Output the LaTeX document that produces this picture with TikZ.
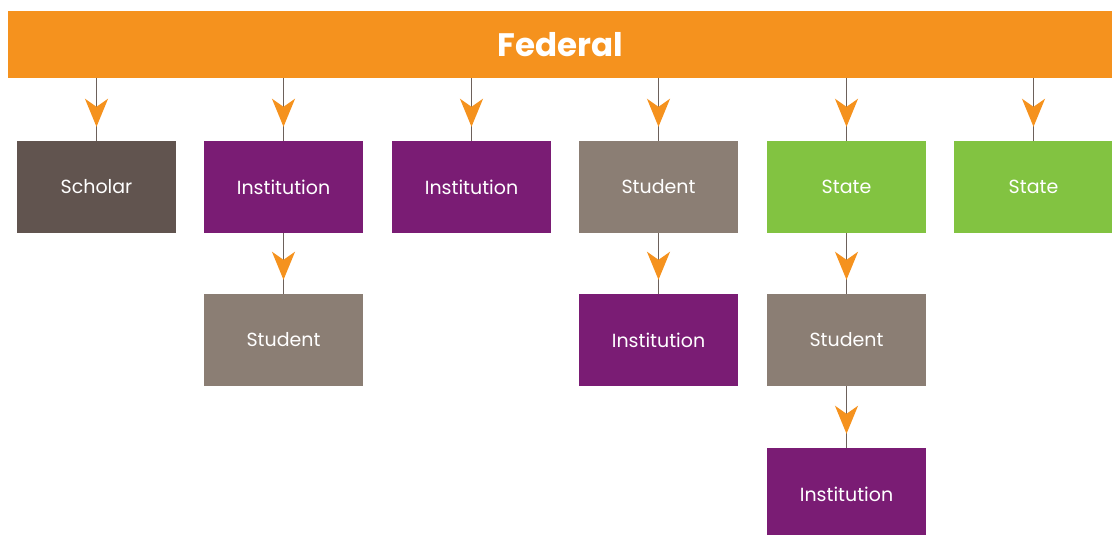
\documentclass[tikz,border=0pt]{standalone}
\usepackage{fontspec}
\setmainfont{Poppins}
\usetikzlibrary{arrows.meta,decorations.markings}
\definecolor{fedorange}{HTML}{F5921E}
\definecolor{scholarbrown}{HTML}{61544F}
\definecolor{instpurple}{HTML}{7A1C74}
\definecolor{studtaupe}{HTML}{8B7E74}
\definecolor{stategreen}{HTML}{82C341}
\definecolor{linkgray}{HTML}{6D615B}
\tikzset{
  box/.style={minimum width=159pt, minimum height=92pt, inner sep=0pt,
    text=white, font=\fontsize{19}{22}\selectfont},
  scholar/.style={box, fill=scholarbrown},
  inst/.style={box, fill=instpurple},
  stud/.style={box, fill=studtaupe},
  state/.style={box, fill=stategreen},
  link/.style={draw=linkgray, line width=1.8pt,
    postaction={decorate, decoration={markings,
      mark=at position -14pt with {\arrow{Stealth[length=28pt, width=23pt, inset=8pt, fedorange]}}}}}
}
\begin{document}
\begin{tikzpicture}[x=1pt, y=-1pt]
\useasboundingbox (0,0) rectangle (1112,535);
\begin{scope}
\clip (0,0) rectangle (1112,535);
% top bar
\node[fill=fedorange, minimum width=1104pt, minimum height=67pt, inner sep=0pt,
  text=white, font=\bfseries\fontsize{32.5}{36}\selectfont] (federal) at (560,44.5) {Federal};
% first row
\node[scholar] (scholar) at (96.5,187) {Scholar};
\node[inst] (inst1) at (283.5,187) {Institution};
\node[inst] (inst2) at (471.5,187) {Institution};
\node[stud] (stud1) at (658.5,187) {Student};
\node[state] (state1) at (846.5,187) {State};
\node[state] (state2) at (1033.5,187) {State};
% second row
\node[stud] (stud2) at (283.5,340) {Student};
\node[inst] (inst3) at (658.5,340) {Institution};
\node[stud] (stud3) at (846.5,340) {Student};
% third row
\node[inst] (inst4) at (846.5,494) {Institution};
% connectors
\foreach \b in {scholar,inst1,inst2,stud1,state1,state2}
  \path[link] (federal.south -| \b.north) -- (\b.north);
\path[link] (inst1.south) -- (stud2.north);
\path[link] (stud1.south) -- (inst3.north);
\path[link] (state1.south) -- (stud3.north);
\path[link] (stud3.south) -- (inst4.north);
\end{scope}
\end{tikzpicture}
\end{document}
